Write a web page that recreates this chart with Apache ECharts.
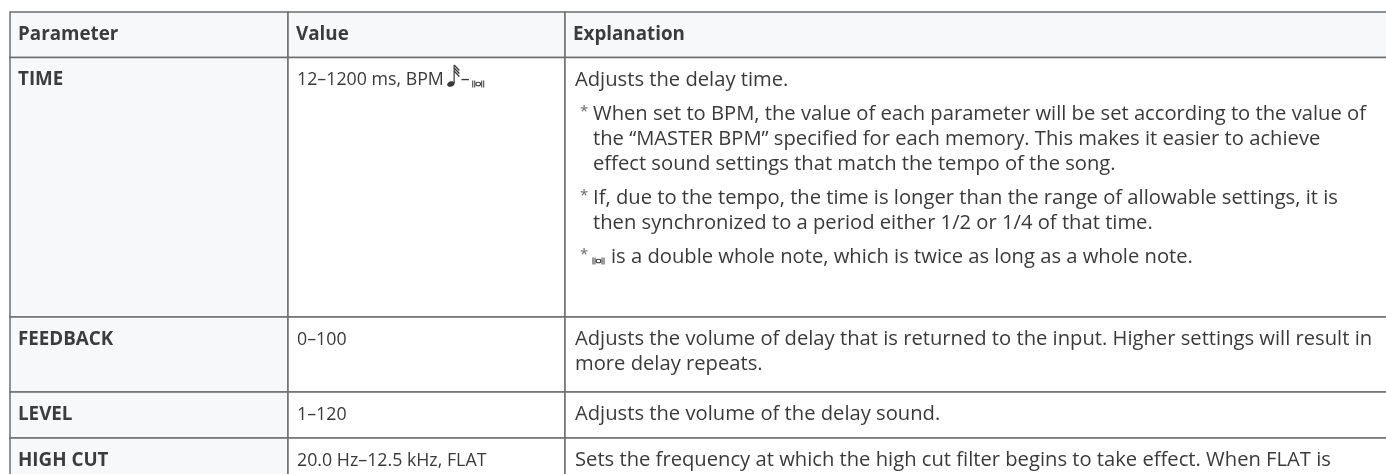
<!DOCTYPE html>
<html><head><meta charset="utf-8">
<script src="https://cdn.jsdelivr.net/npm/echarts@6/dist/echarts.min.js"></script>
<style>html,body{margin:0;padding:0;background:#fff}#c{width:1386px;height:474px}</style>
</head><body><div id="c"></div>
<script>
// ---------- data ----------
const headers = ['Parameter', 'Value', 'Explanation'];
const params = ['TIME', 'FEEDBACK', 'LEVEL', 'HIGH CUT'];
const values = ['12–1200 ms, BPM', '0–100', '1–120', '20.0 Hz–12.5 kHz, FLAT'];
const timeExplanation = [
  { note: false, lines: ['Adjusts the delay time.'] },
  { note: true, lines: ['When set to BPM, the value of each parameter will be set according to the value of',
                        'the “MASTER BPM” specified for each memory. This makes it easier to achieve',
                        'effect sound settings that match the tempo of the song.'] },
  { note: true, lines: ['If, due to the tempo, the time is longer than the range of allowable settings, it is',
                        'then synchronized to a period either 1/2 or 1/4 of that time.'] },
  { note: true, breve: true, lines: ['is a double whole note, which is twice as long as a whole note.'] }
];
const feedbackExplanation = [
  { note: false, lines: ['Adjusts the volume of delay that is returned to the input. Higher settings will result in',
                         'more delay repeats.'] }
];
const levelExplanation = [
  { note: false, lines: ['Adjusts the volume of the delay sound.'] }
];
const highCutExplanation = [
  { note: false, lines: ['Sets the frequency at which the high cut filter begins to take effect. When FLAT is',
                         'selected, the high cut filter will have no effect.'] }
];
const explanations = [timeExplanation, feedbackExplanation, levelExplanation, highCutExplanation];
const valueSymbols = [true, false, false, false]; // TIME value ends with note – breve symbols

// ---------- layout / style ----------
const W = 1386, H = 474;
const COL_X = [10, 288, 565, 1420];
const TABLE_TOP = 12;
const ROW_H = [45.5, 259.5, 75, 46, 70];
const PAD = 10, LINE = 25, PGAP = 9;
const FS_EXP = 20.2, FS_VAL = 17.8, FS_HEAD = 18.8;
const FONT = '"Open Sans", "Noto Sans", sans-serif';
const TEXT = '#3a3a3a', HEAD = '#3c3c3c', BORDER = '#6d6d6d', SHADE = '#f7f8fa';

const rowTop = [TABLE_TOP];
for (let i = 0; i < ROW_H.length; i++) rowTop.push(rowTop[i] + ROW_H[i]);

const mctx = document.createElement('canvas').getContext('2d');
function tw(t, font) { mctx.font = font; return mctx.measureText(t).width; }

const cells = [];
for (let r = 0; r < params.length + 1; r++) for (let c = 0; c < 3; c++) cells.push([c, r]);

function noteShape(x, y, col) { // 32nd note, head centred at (x,y)
  return [
    { type: 'ellipse', shape: { cx: x, cy: y, rx: 3.8, ry: 2.7 }, rotation: 0.35, originX: x, originY: y, style: { fill: col } },
    { type: 'line', shape: { x1: x + 3.3, y1: y - 0.5, x2: x + 3.3, y2: y - 19 }, style: { stroke: col, lineWidth: 1.2 } },
    { type: 'polyline', shape: { points: [[x + 3.3, y - 19], [x + 8.5, y - 13.5]] }, style: { stroke: col, lineWidth: 1.3, fill: null } },
    { type: 'polyline', shape: { points: [[x + 3.3, y - 16], [x + 8.5, y - 10.5]] }, style: { stroke: col, lineWidth: 1.3, fill: null } },
    { type: 'polyline', shape: { points: [[x + 3.3, y - 13], [x + 8.5, y - 7.5]] }, style: { stroke: col, lineWidth: 1.3, fill: null } }
  ];
}
function breveShape(x, y, col) { // double whole note, left edge x, centre y
  return [
    { type: 'line', shape: { x1: x, y1: y - 3.5, x2: x, y2: y + 3.5 }, style: { stroke: col, lineWidth: 1 } },
    { type: 'line', shape: { x1: x + 2, y1: y - 3.5, x2: x + 2, y2: y + 3.5 }, style: { stroke: col, lineWidth: 1 } },
    { type: 'ellipse', shape: { cx: x + 5.5, cy: y, rx: 2.3, ry: 1.8 }, style: { fill: null, stroke: col, lineWidth: 1.1 } },
    { type: 'line', shape: { x1: x + 9, y1: y - 3.5, x2: x + 9, y2: y + 3.5 }, style: { stroke: col, lineWidth: 1 } },
    { type: 'line', shape: { x1: x + 11, y1: y - 3.5, x2: x + 11, y2: y + 3.5 }, style: { stroke: col, lineWidth: 1 } }
  ];
}

function renderItem(params_, api) {
  const c = api.value(0), r = api.value(1);
  const p0 = api.coord([COL_X[c], rowTop[r]]);
  const p1 = api.coord([COL_X[c + 1], rowTop[r + 1]]);
  const x0 = p0[0], y0 = p0[1], x1 = p1[0], y1 = p1[1];
  const kids = [];
  kids.push({ type: 'rect', shape: { x: x0, y: y0, width: x1 - x0, height: y1 - y0 },
    style: { fill: (r === 0 || c === 0) ? SHADE : '#ffffff', stroke: BORDER, lineWidth: 1.5 } });
  const expFont = FS_EXP + 'px ' + FONT, valFont = FS_VAL + 'px ' + FONT, bold = 'bold ' + FS_HEAD + 'px ' + FONT;
  const firstY = y0 + PAD + LINE / 2;
  if (r === 0) {
    kids.push({ type: 'text', style: { text: headers[c], x: x0 + 8, y: (y0 + y1) / 2, font: bold, fill: HEAD, verticalAlign: 'middle' } });
  } else if (c === 0) {
    kids.push({ type: 'text', style: { text: params[r - 1], x: x0 + 8, y: firstY, font: bold, fill: HEAD, verticalAlign: 'middle' } });
  } else if (c === 1) {
    const t = values[r - 1];
    kids.push({ type: 'text', style: { text: t, x: x0 + 9, y: firstY, font: valFont, fill: TEXT, verticalAlign: 'middle' } });
    if (valueSymbols[r - 1]) {
      const nx = x0 + 9 + tw(t, valFont) + 7;
      kids.push(...noteShape(nx, firstY + 4, TEXT));
      kids.push({ type: 'text', style: { text: '–', x: nx + 10, y: firstY, font: valFont, fill: TEXT, verticalAlign: 'middle' } });
      kids.push(...breveShape(nx + 10 + tw('–', valFont) + 3, firstY + 4, TEXT));
    }
  } else {
    const paras = explanations[r - 1];
    let y = firstY;
    paras.forEach((para, pi) => {
      if (pi > 0) y += PGAP;
      para.lines.forEach((ln, li) => {
        let tx = x0 + 10;
        if (para.note) {
          tx = x0 + 28;
          if (li === 0) kids.push({ type: 'text', style: { text: '*', x: x0 + 15, y: y - 2, font: '15px ' + FONT, fill: '#666', verticalAlign: 'middle' } });
          if (para.breve && li === 0) {
            kids.push(...breveShape(tx, y + 4, TEXT));
            tx += 18;
          }
        }
        kids.push({ type: 'text', style: { text: ln, x: tx, y: y, font: expFont, fill: TEXT, verticalAlign: 'middle' } });
        y += LINE;
      });
    });
  }
  return { type: 'group', children: kids };
}

const chart = echarts.init(document.getElementById('c'), null, { renderer: 'canvas' });
chart.setOption({
  animation: false,
  backgroundColor: '#ffffff',
  grid: { left: 0, right: 0, top: 0, bottom: 0 },
  xAxis: { type: 'value', min: 0, max: W, show: false },
  yAxis: { type: 'value', min: 0, max: H, inverse: true, show: false },
  series: [{ type: 'custom', renderItem: renderItem, data: cells, clip: false, silent: true }]
});
</script></body></html>
